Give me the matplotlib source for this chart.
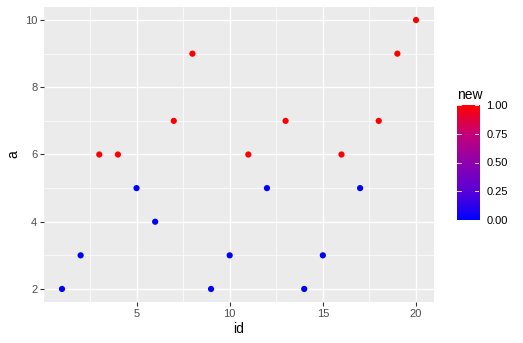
import numpy as np
from matplotlib import pyplot as plt
from matplotlib.colors import LinearSegmentedColormap
from matplotlib.ticker import MultipleLocator

plt.rcParams["font.family"] = ["Liberation Sans", "DejaVu Sans"]

ids = list(range(1, 21))
a_vals = [2, 3, 6, 6, 5, 4, 7, 9, 2, 3, 6, 5, 7, 2, 3, 6, 5, 7, 9, 10]
new_vals = [0, 0, 1, 1, 0, 0, 1, 1, 0, 0, 1, 0, 1, 0, 0, 1, 0, 1, 1, 1]

# blue -> red gradient, roughly like ggplot's Lab interpolation
cmap = LinearSegmentedColormap.from_list(
    "bluered",
    [(0.0, "#0000FF"), (0.25, "#5A00D8"), (0.5, "#8E00AE"), (0.75, "#C40078"), (1.0, "#FF0000")],
)

W, H = 523, 343
fig = plt.figure(figsize=(W / 100, H / 100), dpi=100)

tick_col = "#4D4D4D"
ax = fig.add_axes([44.3 / W, 1 - 302.4 / H, 389.4 / W, 295.8 / H])
ax.set_facecolor("#EBEBEB")
for s in ax.spines.values():
    s.set_visible(False)

ax.scatter(ids, a_vals, c=new_vals, cmap=cmap, vmin=0, vmax=1, s=20, linewidths=0, zorder=3)

ax.set_xlim(1 - 0.05 * 19, 20 + 0.05 * 19)
ax.set_ylim(2 - 0.05 * 8, 10 + 0.05 * 8)
ax.xaxis.set_major_locator(MultipleLocator(5))
ax.xaxis.set_minor_locator(MultipleLocator(2.5))
ax.yaxis.set_major_locator(MultipleLocator(2))
ax.yaxis.set_minor_locator(MultipleLocator(1))
ax.grid(which="major", color="white", linewidth=1.0)
ax.grid(which="minor", color="white", linewidth=0.5)
ax.set_axisbelow(True)
ax.tick_params(which="major", length=3, width=0.8, color="#333333", labelcolor=tick_col,
               labelsize=8, pad=2)
ax.tick_params(which="minor", length=0)
ax.set_xlabel("id", fontsize=10, labelpad=2)
ax.set_ylabel("a", fontsize=10, labelpad=3)

# legend colourbar
cax = fig.add_axes([456.7 / W, 1 - 220 / H, 22.6 / W, 115 / H])
grad = np.linspace(0, 1, 256).reshape(-1, 1)
cax.imshow(grad, aspect="auto", cmap=cmap, origin="lower", extent=[0, 1, 0, 1])
cax.set_xlim(0, 1)
cax.set_ylim(0.0, 1.0)
for s in cax.spines.values():
    s.set_visible(False)
cax.set_xticks([])
cax.yaxis.tick_right()
cb_ticks = [0.0, 0.25, 0.5, 0.75, 1.0]
cax.set_yticks(cb_ticks)
cax.set_yticklabels([f"{t:.2f}" for t in cb_ticks])
cax.tick_params(axis="y", length=0, labelsize=8, labelcolor="black", pad=5)
for t in cb_ticks:
    cax.plot([0, 0.2], [t, t], color="white", linewidth=0.6)
    cax.plot([0.8, 1], [t, t], color="white", linewidth=0.6)
fig.text(456.7 / W, 1 - 95 / H, "new", fontsize=10, ha="left", va="center")

fig.savefig("out.png", dpi=100)
